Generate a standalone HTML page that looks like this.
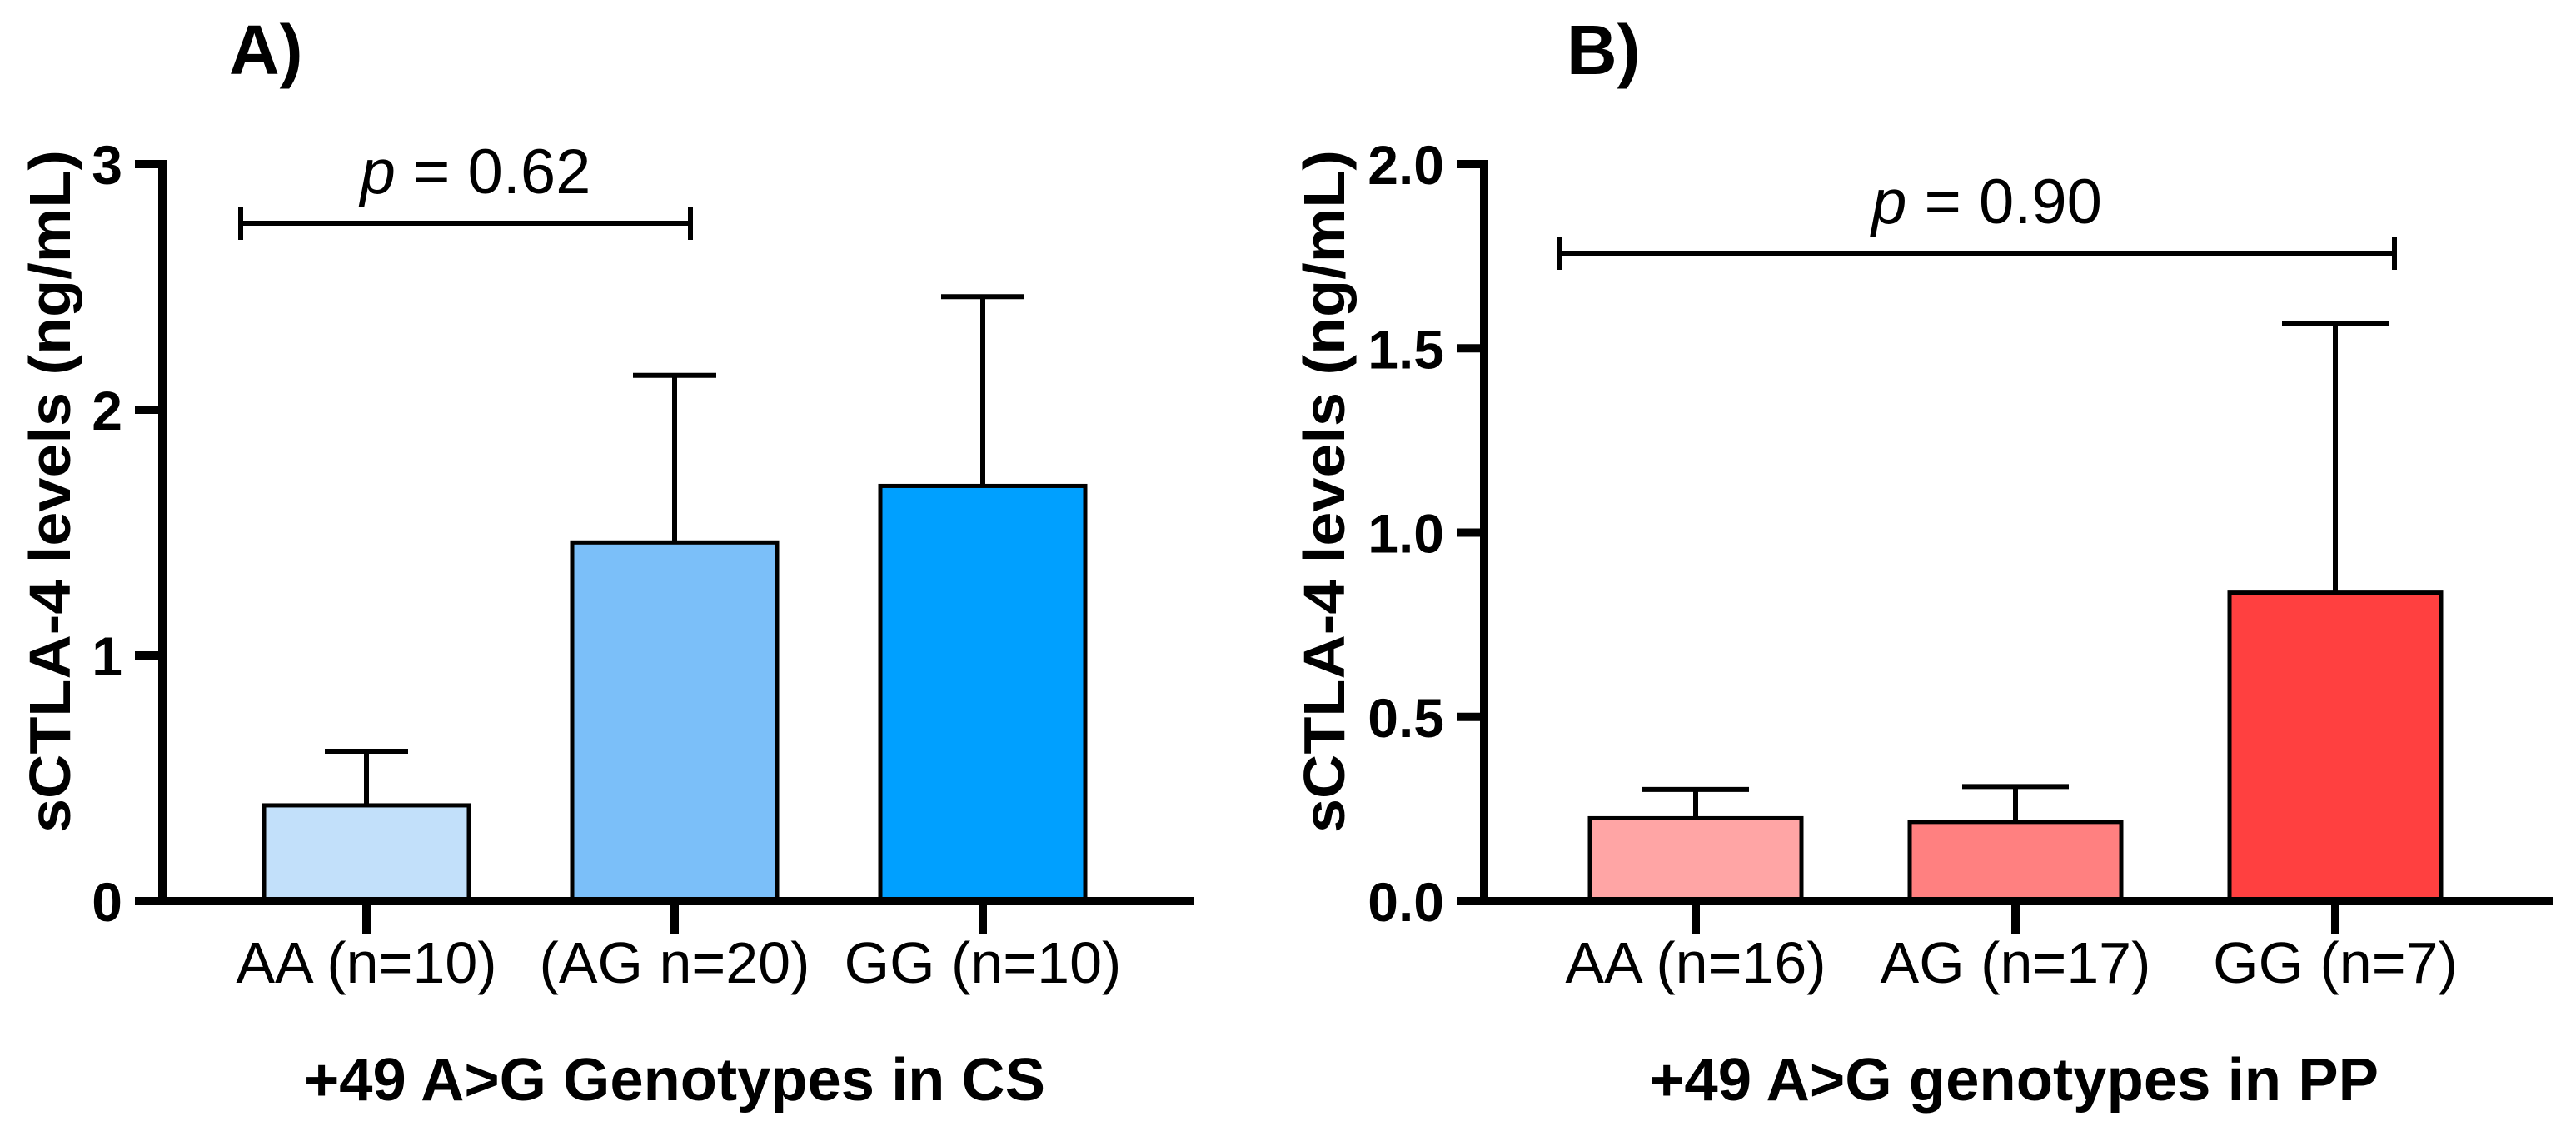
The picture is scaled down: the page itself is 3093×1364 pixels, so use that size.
<!DOCTYPE html>
<html><head><meta charset="utf-8">
<style>
html,body{margin:0;padding:0;background:#fff;}
svg{display:block;font-family:"Liberation Sans",Arial,sans-serif;}
</style></head>
<body>
<svg id="chart" width="3093" height="1364" viewBox="0 0 3093 1364" xmlns="http://www.w3.org/2000/svg">
<rect width="3093" height="1364" fill="#fff"/>
<g id="panelA"></g>
<g id="panelB"></g>
</svg>
<script>
const catsA = ["AA (n=10)", "(AG n=20)", "GG (n=10)"];
const meansA = [0.39, 1.46, 1.69];
const errsA = [0.61, 2.14, 2.46];
const ticksA = [0, 1, 2, 3];
const tickLabelsA = ["0", "1", "2", "3"];
const colorsA = ["#C2E0FA", "#7BBFF9", "#00A0FF"];

const catsB = ["AA (n=16)", "AG (n=17)", "GG (n=7)"];
const meansB = [0.225, 0.215, 0.837];
const errsB = [0.303, 0.311, 1.566];
const ticksB = [0, 0.5, 1.0, 1.5, 2.0];
const tickLabelsB = ["0.0", "0.5", "1.0", "1.5", "2.0"];
const colorsB = ["#FFA5A5", "#FF8080", "#FF4040"];

const NS = "http://www.w3.org/2000/svg";
function mk(parent, tag, attrs, text) {
  const e = document.createElementNS(NS, tag);
  for (const k in attrs) e.setAttribute(k, attrs[k]);
  if (text !== undefined) e.textContent = text;
  parent.appendChild(e);
  return e;
}

function drawPanel(g, cfg) {
  const y = v => cfg.y0 - (v - cfg.ymin) / (cfg.ymax - cfg.ymin) * (cfg.y0 - cfg.y1);
  const x = i => cfg.cx[0] + i * (cfg.cx[1] - cfg.cx[0]);
  cfg.cats.forEach((c, i) => {
    const err = mk(g, "line", {x1: x(i), x2: x(i), y1: y(cfg.means[i]), y2: y(cfg.errs[i]), stroke: "#000", "stroke-width": 6});
    
    
    const cap = mk(g, "line", {x1: x(i) - cfg.cap / 2, x2: x(i) + cfg.cap / 2, y1: y(cfg.errs[i]), y2: y(cfg.errs[i]), stroke: "#000", "stroke-width": 6});
    
    
    const bar = mk(g, "rect", {x: x(i) - cfg.bw / 2, y: y(cfg.means[i]), width: cfg.bw, height: y(cfg.ymin) - y(cfg.means[i]), fill: cfg.colors[i], stroke: "#000", "stroke-width": 5});
    
    
    const tk = mk(g, "line", {x1: x(i), x2: x(i), y1: cfg.y0, y2: cfg.y0 + 39, stroke: "#000", "stroke-width": 10});
    
    
    const lb = mk(g, "text", {x: x(i), y: 1180, "text-anchor": "middle", "font-size": 70, fill: "#000"}, c);
    
    
  });
  const ya = mk(g, "line", {x1: cfg.ax, x2: cfg.ax, y1: cfg.y1 - 5, y2: cfg.y0 + 5, stroke: "#000", "stroke-width": 10});
  
  
  const xa = mk(g, "line", {x1: cfg.ax - 33, x2: cfg.axEnd, y1: cfg.y0, y2: cfg.y0, stroke: "#000", "stroke-width": 10});
  
  
  cfg.ticks.forEach((t, i) => {
    const tl = mk(g, "line", {x1: cfg.ax - 33, x2: cfg.ax, y1: y(t), y2: y(t), stroke: "#000", "stroke-width": 10});
    
    
    const lt = mk(g, "text", {x: cfg.ax - 48, y: y(t) + 24, "text-anchor": "end", "font-size": 66, "font-weight": "bold"}, cfg.tickLabels[i]);
    
    
  });
  const by = cfg.bracket[2];
  const br = mk(g, "path", {d: `M${cfg.bracket[0]},${by - 20}V${by + 20}M${cfg.bracket[0]},${by}H${cfg.bracket[1]}M${cfg.bracket[1]},${by - 20}V${by + 20}`, stroke: "#000", "stroke-width": 6, fill: "none"});
  
  
  const pt = mk(g, "text", {x: (cfg.bracket[0] + cfg.bracket[1]) / 2 + 12, y: by - 36, "text-anchor": "middle", "font-size": 76});
  
  
  mk(pt, "tspan", {"font-style": "italic"}, "p");
  mk(pt, "tspan", {}, " = " + cfg.p);
  const tt = mk(g, "text", {x: cfg.titleX, y: 89, "font-size": 84, "font-weight": "bold"}, cfg.title);
  
  
  const yl = mk(g, "text", {x: 0, y: 0, transform: `translate(${cfg.ylX},${cfg.ylY}) rotate(-90)`, "text-anchor": "middle", "font-size": 70, "font-weight": "bold", textLength: 820, lengthAdjust: "spacingAndGlyphs"}, "sCTLA-4 levels (ng/mL)");
  
  
  const xl = mk(g, "text", {x: cfg.xlX, y: 1321, "text-anchor": "middle", "font-size": 72, "font-weight": "bold", textLength: cfg.xlW, lengthAdjust: "spacingAndGlyphs"}, cfg.xlabel);
  
  
}

drawPanel(document.getElementById("panelA"), {
  cats: catsA, means: meansA, errs: errsA, ticks: ticksA, tickLabels: tickLabelsA, colors: colorsA,
  ymin: 0, ymax: 3, y0: 1082, y1: 197, cx: [440, 810], bw: 246, cap: 100,
  ax: 195, axEnd: 1434, bracket: [289, 829, 268], p: "0.62",
  title: "A)", titleX: 275, ylX: 84, ylY: 590, xlX: 810, xlW: 890, xlabel: "+49 A>G Genotypes in CS"
});
drawPanel(document.getElementById("panelB"), {
  cats: catsB, means: meansB, errs: errsB, ticks: ticksB, tickLabels: tickLabelsB, colors: colorsB,
  ymin: 0, ymax: 2, y0: 1082, y1: 197, cx: [2036, 2420], bw: 254, cap: 128,
  ax: 1782, axEnd: 3065, bracket: [1872, 2875, 304], p: "0.90",
  title: "B)", titleX: 1881, ylX: 1614, ylY: 590, xlX: 2418, xlW: 876, xlabel: "+49 A>G genotypes in PP"
});
</script>
</body></html>
